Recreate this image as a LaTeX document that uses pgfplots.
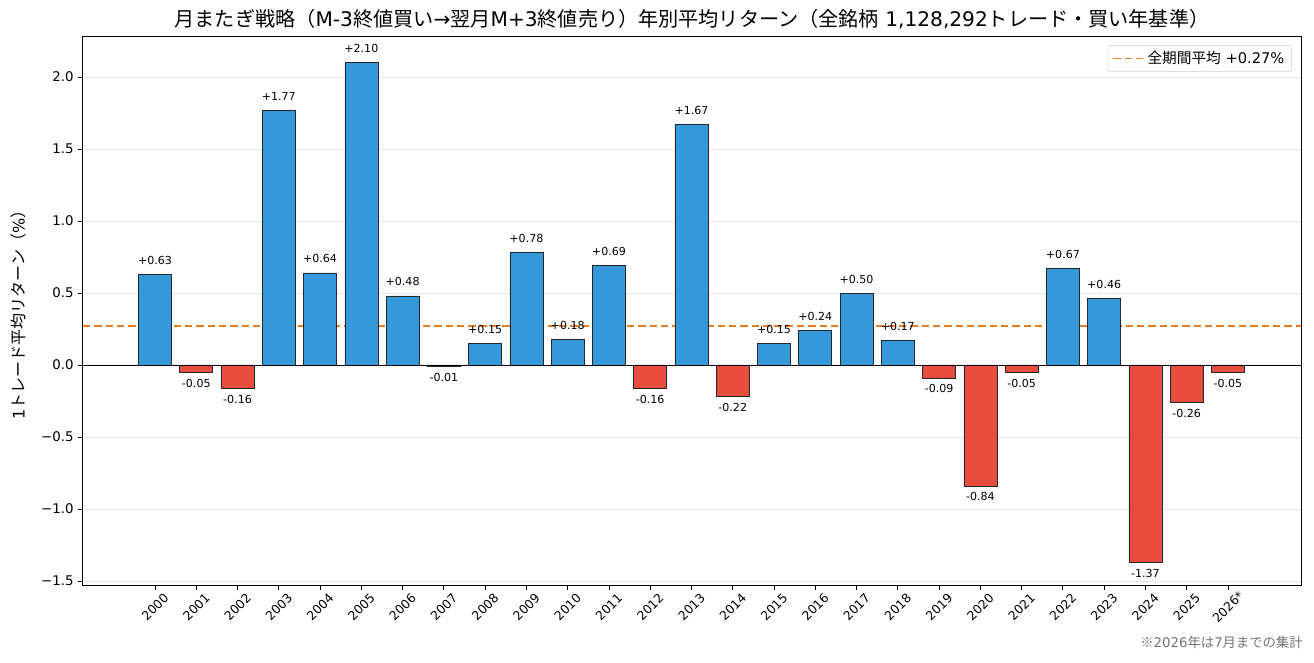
\documentclass[border=0pt]{standalone}
\usepackage{pgfplots}
\pgfplotsset{compat=1.18}
\usepackage{pgfplotstable}
\usepackage{fontspec}
\setmainfont{DejaVu Sans}
\newfontfamily\cjk{Noto Sans CJK JP}
\definecolor{barblue}{HTML}{3498DB}
\definecolor{barred}{HTML}{E74C3C}
\definecolor{meanorange}{HTML}{E67E22}
\definecolor{gridgray}{HTML}{E6E6E6}

\pgfplotstableread{
x y label
0 0.63 +0.63
3 1.77 +1.77
4 0.64 +0.64
5 2.10 +2.10
6 0.48 +0.48
8 0.15 +0.15
9 0.78 +0.78
10 0.18 +0.18
11 0.69 +0.69
13 1.67 +1.67
15 0.15 +0.15
16 0.24 +0.24
17 0.50 +0.50
18 0.17 +0.17
22 0.67 +0.67
23 0.46 +0.46
}\postable

\pgfplotstableread{
x y label
1 -0.05 -0.05
2 -0.16 -0.16
7 -0.01 -0.01
12 -0.16 -0.16
14 -0.22 -0.22
19 -0.09 -0.09
20 -0.84 -0.84
21 -0.05 -0.05
24 -1.37 -1.37
25 -0.26 -0.26
26 -0.05 -0.05
}\negtable

\begin{document}
\begin{tikzpicture}
\begin{axis}[
  scale only axis,
  width=913.5pt, height=411pt,
  xmin=-1.745, xmax=27.77,
  ymin=-1.528, ymax=2.278,
  xtick={0,...,26},
  xticklabels={2000,2001,2002,2003,2004,2005,2006,2007,2008,2009,2010,2011,2012,2013,2014,2015,2016,2017,2018,2019,2020,2021,2022,2023,2024,2025,2026*},
  ytick={-1.5,-1,-0.5,0,0.5,1,1.5,2},
  yticklabels={−1.5,−1.0,−0.5,0.0,0.5,1.0,1.5,2.0},
  tick align=outside,
  tick pos=left,
  major tick length=3.6pt,
  tick style={black, line width=0.6pt},
  axis line style={black, line width=0.75pt},
  ymajorgrids,
  grid style={gridgray, line width=0.6pt},
  xticklabel style={font=\fontsize{9.3}{10}\selectfont, yshift=-13pt, rotate=45, anchor=center},
  yticklabel style={font=\fontsize{10}{12}\selectfont},
  title={{\cjk 月またぎ戦略（}M-3{\cjk 終値買い}→{\cjk 翌月}M+3{\cjk 終値売り）年別平均リターン（全銘柄} 1,128,292{\cjk トレード・買い年基準）}},
  title style={font=\fontsize{15.1}{17}\selectfont, yshift=-3.5pt},
  ylabel={1{\cjk トレード平均リターン（}\%{\cjk ）}},
  ylabel style={font=\fontsize{12}{14}\selectfont, at={(axis description cs:-0.053,0.5)}, anchor=center},
  legend style={at={(1,1)}, anchor=north east, xshift=-6.75pt, yshift=-6pt,
    draw=black!18, rounded corners=2pt, fill=white, font=\fontsize{11}{13}\selectfont,
    inner xsep=3.5pt, inner ysep=2.5pt},
  legend cell align=left,
  legend image code/.code={\draw[#1] (0pt,0pt) -- (23pt,0pt);},
  clip=false,
]
\addplot[meanorange, line width=1.1pt, dash pattern=on 5.5pt off 3pt] coordinates {(-1.745,0.27) (27.77,0.27)};
\addlegendentry{{\cjk 全期間平均} +0.27\%}

\addplot[ybar, bar width=0.8, bar shift=0pt, fill=barblue, draw=black!85, line width=0.5pt,
  point meta=explicit symbolic,
  nodes near coords,
  every node near coord/.append style={anchor=center, yshift=10.5pt, font=\fontsize{8.3}{9}\selectfont, black},
  forget plot] table[x=x, y=y, meta=label] {\postable};

\addplot[ybar, bar width=0.8, bar shift=0pt, fill=barred, draw=black!85, line width=0.5pt,
  point meta=explicit symbolic,
  nodes near coords,
  every node near coord/.append style={anchor=center, yshift=-8.25pt, font=\fontsize{8.3}{9}\selectfont, black},
  forget plot] table[x=x, y=y, meta=label] {\negtable};

\addplot[black, line width=0.6pt, forget plot] coordinates {(-1.745,0) (27.77,0)};

\coordinate (SW) at (rel axis cs:0,0);
\coordinate (NE) at (rel axis cs:1,1);
\coordinate (SE) at (rel axis cs:1,0);
\end{axis}
\node[anchor=east, text=black!55, font=\fontsize{10}{11}\selectfont, inner sep=0pt] at ([xshift=1.5pt, yshift=-43pt]SE) {{\cjk ※}2026{\cjk 年は}7{\cjk 月までの集計}};
\pgfresetboundingbox
\useasboundingbox ([xshift=-62.25pt, yshift=-57.75pt]SW) rectangle ([xshift=9.75pt, yshift=27.75pt]NE);
\end{tikzpicture}
\end{document}
